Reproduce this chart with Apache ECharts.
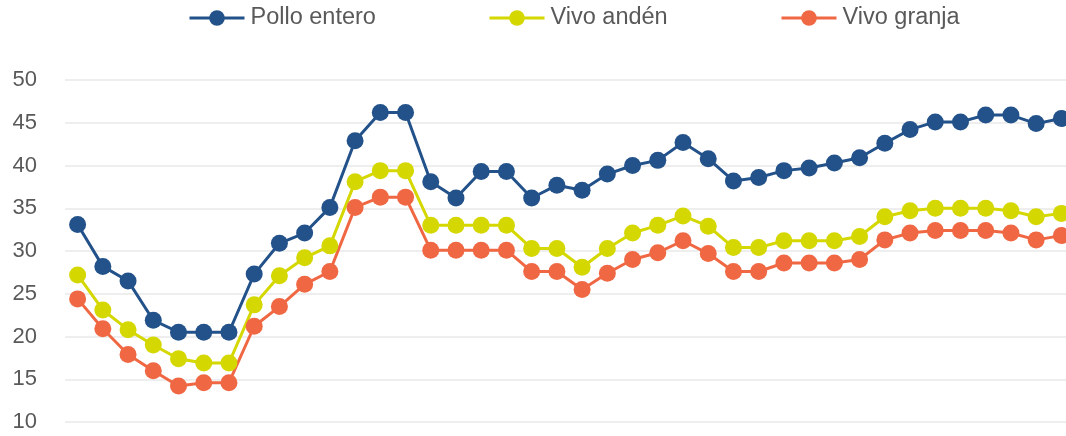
<!DOCTYPE html>
<html>
<head>
<meta charset="utf-8">
<script src="https://cdn.jsdelivr.net/npm/echarts@6/dist/echarts.min.js"></script>
<style>
  html, body { margin: 0; padding: 0; background: #fff; }
  #chart { width: 1066px; height: 436px; }
</style>
</head>
<body>
<div id="chart"></div>
<script>
const categories = Array.from({length: 40}, (_, i) => 'S' + (i + 1));

const polloEntero = [33.1, 28.2, 26.5, 21.9, 20.5, 20.5, 20.5, 27.3, 30.9, 32.1,
    35.1, 42.9, 46.2, 46.2, 38.1, 36.2, 39.3, 39.3, 36.2, 37.7,
    37.1, 39.0, 40.0, 40.6, 42.7, 40.8, 38.2, 38.6, 39.4, 39.7,
    40.3, 40.9, 42.6, 44.2, 45.1, 45.1, 45.9, 45.9, 44.9, 45.5];

const vivoAnden = [27.2, 23.1, 20.8, 19.0, 17.4, 16.9, 16.9, 23.7, 27.1, 29.2,
    30.6, 38.1, 39.4, 39.4, 33.0, 33.0, 33.0, 33.0, 30.3, 30.3,
    28.1, 30.3, 32.1, 33.0, 34.1, 32.9, 30.4, 30.4, 31.2, 31.2,
    31.2, 31.7, 34.0, 34.7, 35.0, 35.0, 35.0, 34.7, 34.0, 34.4];

const vivoGranja = [24.4, 20.9, 17.9, 16.0, 14.2, 14.6, 14.6, 21.2, 23.5, 26.1,
    27.6, 35.1, 36.3, 36.3, 30.1, 30.1, 30.1, 30.1, 27.6, 27.6,
    25.5, 27.4, 29.0, 29.8, 31.2, 29.7, 27.6, 27.6, 28.6, 28.6,
    28.6, 29.0, 31.3, 32.1, 32.4, 32.4, 32.4, 32.1, 31.3, 31.8];

const seriesNames = ['Pollo entero', 'Vivo andén', 'Vivo granja'];
const seriesColors = ['#23528a', '#d4d700', '#f06843'];
const seriesData = [polloEntero, vivoAnden, vivoGranja];
const legendLeft = [188, 488, 780];

const chart = echarts.init(document.getElementById('chart'));

const fontFamily = '"Liberation Sans", Arial, sans-serif';

const option = {
    backgroundColor: '#ffffff',
    animation: false,
    legend: seriesNames.map((name, i) => ({
        data: [name],
        left: legendLeft[i],
        top: 6,
        padding: 0,
        itemWidth: 55,
        itemHeight: 19.5,
        lineStyle: {width: 3},
        textStyle: {
            fontFamily: fontFamily,
            fontSize: 23.5,
            color: '#595959',
            padding: [0, 0, 0, 1]
        }
    })),
    grid: {
        left: 65,
        right: -8,
        top: 80,
        bottom: 14,
        containLabel: false,
        outerBoundsMode: 'none'
    },
    xAxis: {
        type: 'category',
        data: categories,
        boundaryGap: true,
        axisLine: {show: false},
        axisTick: {show: false},
        axisLabel: {show: false}
    },
    yAxis: {
        type: 'value',
        min: 10,
        max: 50,
        interval: 5,
        axisLine: {show: false},
        axisTick: {show: false},
        axisLabel: {
            fontFamily: fontFamily,
            fontSize: 22,
            color: '#595959',
            margin: 28
        },
        splitLine: {lineStyle: {color: '#eeeeee', width: 2}}
    },
    series: seriesNames.map((name, i) => ({
        name: name,
        type: 'line',
        data: seriesData[i],
        color: seriesColors[i],
        symbol: 'circle',
        symbolSize: 17,
        showAllSymbol: true,
        lineStyle: {width: 3, color: seriesColors[i]},
        itemStyle: {color: seriesColors[i]},
        emphasis: {disabled: true}
    }))
};

chart.setOption(option);
</script>
</body>
</html>
